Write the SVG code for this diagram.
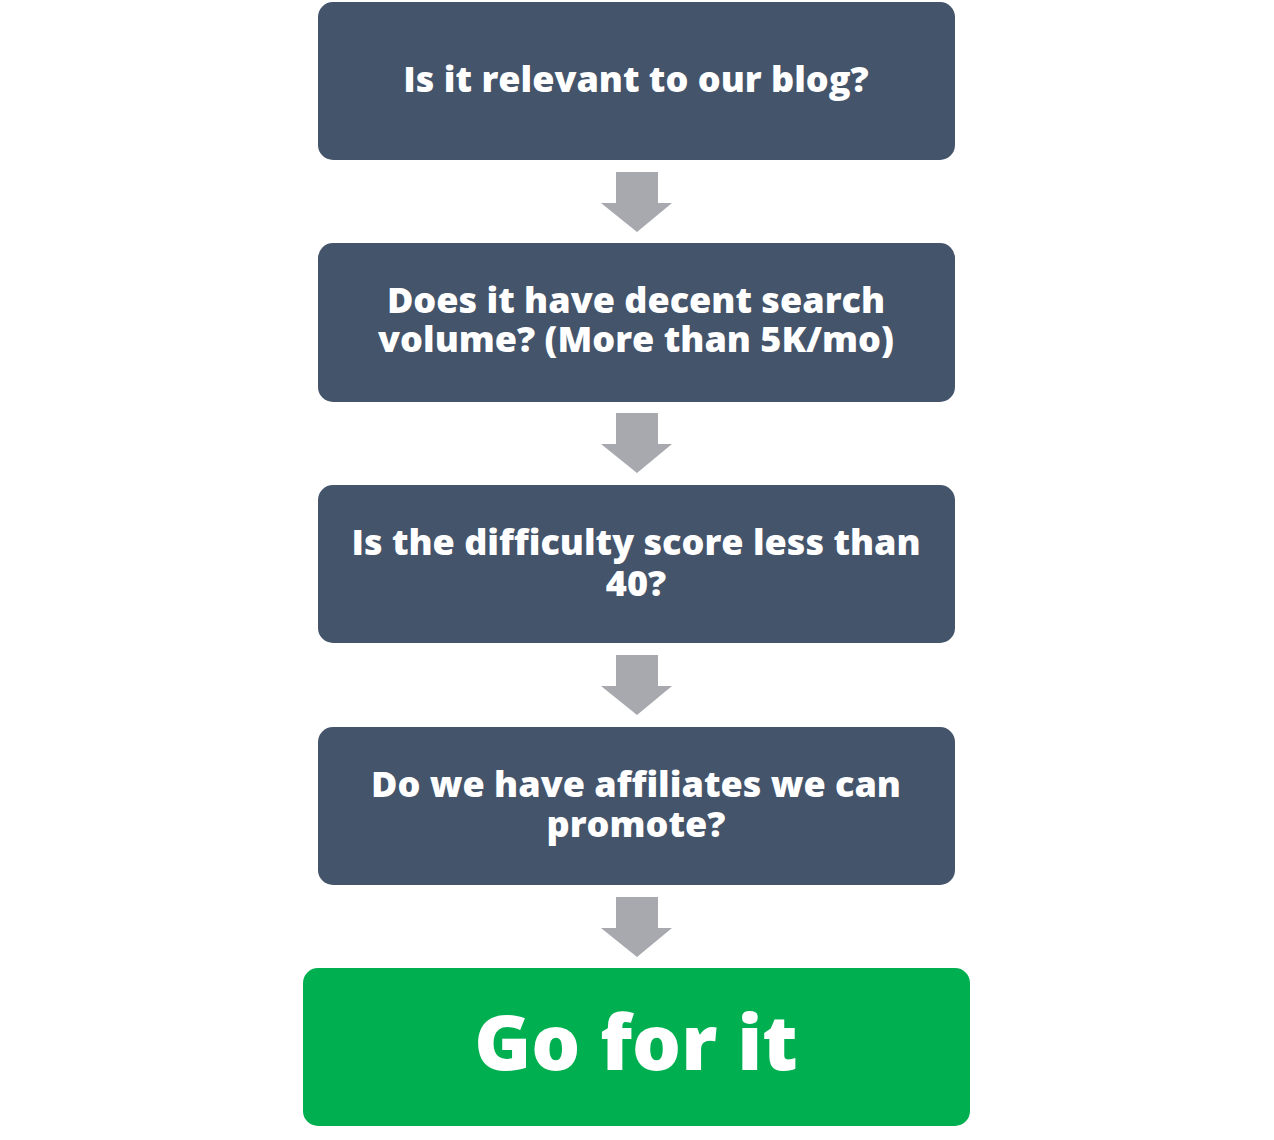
<svg xmlns="http://www.w3.org/2000/svg" width="1274" height="1140" viewBox="0 0 1274 1140">
<style>
.box{fill:#44546A;}
.go{fill:#00B050;}
.arr{fill:#A7A9AF;}
.t{font-family:"Open Sans","Liberation Sans",sans-serif;font-weight:800;font-size:36px;fill:#FFFFFF;text-anchor:middle;}
.g{font-family:"Open Sans","Liberation Sans",sans-serif;font-weight:800;font-size:77px;fill:#FFFFFF;text-anchor:middle;}
</style>
<defs>
<path id="arrow" class="arr" d="M616,0 H658 V31 H672 L637,60 L601,31 H616 Z"/>
</defs>
<rect width="1274" height="1140" fill="#FFFFFF"/>
<g id="connectors">
<use href="#arrow" y="172"/>
<use href="#arrow" y="413"/>
<use href="#arrow" y="655"/>
<use href="#arrow" y="897"/>
</g>
<g id="node1">
<rect class="box" x="318" y="2" width="637" height="158" rx="15"/>
<text class="t" x="636" y="92">Is it relevant to our blog?</text>
</g>
<g id="node2">
<rect class="box" x="318" y="243" width="637" height="159" rx="15"/>
<text class="t" x="636" y="313">Does it have decent search</text>
<text class="t" x="636" y="352">volume? (More than 5K/mo)</text>
</g>
<g id="node3">
<rect class="box" x="318" y="485" width="637" height="158" rx="15"/>
<text class="t" x="636" y="555">Is the difficulty score less than</text>
<text class="t" x="636" y="596">40?</text>
</g>
<g id="node4">
<rect class="box" x="318" y="727" width="637" height="158" rx="15"/>
<text class="t" x="636" y="797">Do we have affiliates we can</text>
<text class="t" x="636" y="837">promote?</text>
</g>
<g id="node5">
<rect class="go" x="303" y="968" width="667" height="158" rx="15"/>
<text class="g" x="636" y="1070">Go for it</text>
</g>
</svg>
